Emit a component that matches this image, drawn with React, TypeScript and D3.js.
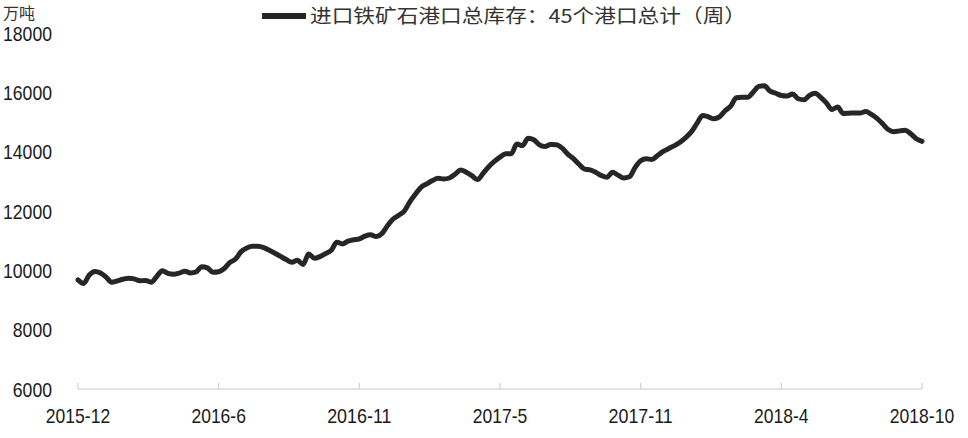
import React from "react";
import * as d3 from "d3";

const seriesName = "进口铁矿石港口总库存：45个港口总计（周）";
const unitLabel = "万吨";

// weekly values (万吨), index 0 = first week of 2015-12, index 150 = 2018-10
const inventory: number[] = [
  9680, 9560, 9840, 9960, 9910, 9770, 9600, 9645, 9700, 9736,
  9712, 9648, 9658, 9600, 9794, 9989, 9901, 9871, 9908, 9969,
  9911, 9945, 10124, 10084, 9938, 9955, 10060, 10266, 10381, 10631,
  10756, 10813, 10810, 10766, 10678, 10577, 10469, 10364, 10273, 10337,
  10199, 10547, 10405, 10462, 10564, 10675, 10949, 10891, 10983, 11030,
  11064, 11152, 11196, 11138, 11236, 11506, 11729, 11858, 12000, 12318,
  12575, 12808, 12916, 13027, 13102, 13078, 13112, 13237, 13386, 13308,
  13190, 13058, 13271, 13494, 13670, 13815, 13930, 13933, 14255, 14204,
  14450, 14400, 14231, 14174, 14238, 14235, 14127, 13927, 13775, 13586,
  13416, 13383, 13305, 13197, 13136, 13302, 13204, 13116, 13153, 13464,
  13694, 13761, 13734, 13869, 14008, 14106, 14204, 14319, 14474, 14667,
  14951, 15218, 15177, 15110, 15174, 15380, 15536, 15816, 15833, 15833,
  16006, 16200, 16220, 16039, 15968, 15894, 15877, 15945, 15783, 15749,
  15897, 15965, 15830, 15644, 15421, 15505, 15289, 15299, 15306, 15306,
  15353, 15255, 15120, 14941, 14745, 14674, 14701, 14718, 14603, 14434,
  14349,
];

const xTickIndex: number[] = [0, 25, 50, 75, 100, 125, 150];
const xTickLabels: string[] = ["2015-12", "2016-6", "2016-11", "2017-5", "2017-11", "2018-4", "2018-10"];
const yTicks: number[] = [6000, 8000, 10000, 12000, 14000, 16000, 18000];

const W = 968;
const H = 438;
const numFont = "'Liberation Sans', Arial, sans-serif";
const cjkFont = "'Noto Sans CJK SC', sans-serif";

// condensed-look width for numeric labels
const narrowWidth = (s: string) =>
  s.split("").reduce((w, c) => w + (c === "-" ? 5.5 : 9.8), 0);

export default function App() {
  const x = d3.scaleLinear().domain([0, inventory.length - 1]).range([78, 922]);
  const y = d3.scaleLinear().domain([6000, 18000]).range([389, 33]);
  const line = d3
    .line<number>()
    .x((_, i) => x(i))
    .y((d) => y(d))
    .curve(d3.curveMonotoneX);

  return (
    <svg
      width={W}
      height={H}
      style={{ position: "absolute", left: 0, top: 0, background: "#fff" }}
    >
      {/* unit */}
      <text x={3} y={19} fontFamily={cjkFont} fontSize={16} fill="#333">
        {unitLabel}
      </text>
      {/* legend */}
      <line x1={262} x2={306} y1={16} y2={16} stroke="#262626" strokeWidth={6} />
      <text
        x={310}
        y={23}
        fontFamily={cjkFont}
        fontSize={19}
        fill="#333"
        textLength={436}
        lengthAdjust="spacingAndGlyphs"
      >
        {seriesName}
      </text>
      {/* y tick labels */}
      {yTicks.map((t) => {
        const s = String(t);
        return (
          <text
            key={t}
            x={52}
            y={y(t)}
            dy="0.36em"
            textAnchor="end"
            fontFamily={numFont}
            fontSize={21}
            fill="#1a1a1a"
            textLength={narrowWidth(s)}
            lengthAdjust="spacingAndGlyphs"
          >
            {s}
          </text>
        );
      })}
      {/* x axis */}
      <line x1={x(0)} x2={x(inventory.length - 1)} y1={389} y2={389} stroke="#c8c8c8" strokeWidth={1} />
      {xTickIndex.map((ti, k) => (
        <g key={ti}>
          <line x1={x(ti)} x2={x(ti)} y1={389} y2={383} stroke="#c8c8c8" strokeWidth={1} />
          <text
            x={x(ti)}
            y={415}
            dy="0.36em"
            textAnchor="middle"
            fontFamily={numFont}
            fontSize={21}
            fill="#1a1a1a"
            textLength={narrowWidth(xTickLabels[k])}
            lengthAdjust="spacingAndGlyphs"
          >
            {xTickLabels[k]}
          </text>
        </g>
      ))}
      {/* series */}
      <path
        d={line(inventory) || ""}
        fill="none"
        stroke="#262626"
        strokeWidth={5}
        strokeLinejoin="round"
        strokeLinecap="round"
      />
    </svg>
  );
}
